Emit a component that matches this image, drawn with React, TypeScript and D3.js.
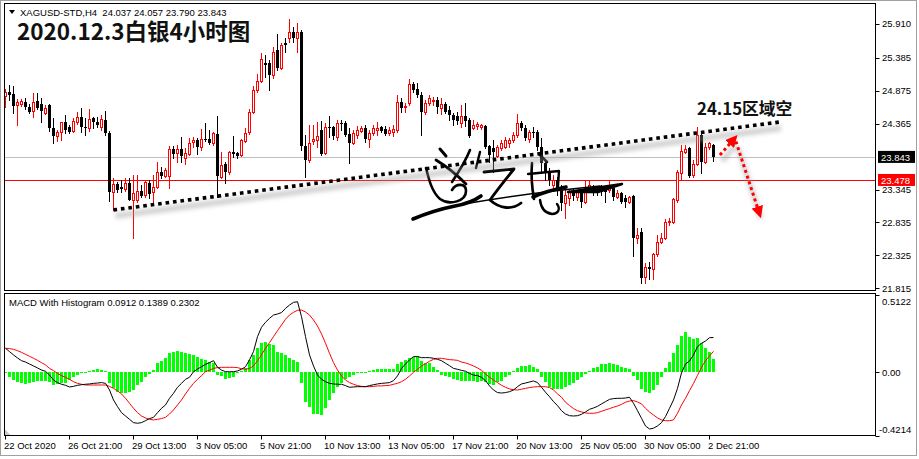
import React from 'react';
import * as d3 from 'd3';

const FONT = '"Liberation Sans", Arial, sans-serif';
const CJK = '"Noto Sans CJK SC", "Noto Sans", sans-serif';

const symbolHeader = 'XAGUSD-STD,H4  24.037 24.057 23.790 23.843';
const chartTitle = '2020.12.3白银4小时图';
const noteText = '24.15区域空';
const macdHeader = 'MACD With Histogram 0.0912 0.1389 0.2302';

const timeLabels = ['22 Oct 2020', '26 Oct 21:00', '29 Oct 13:00', '3 Nov 05:00', '5 Nov 21:00', '10 Nov 13:00', '13 Nov 05:00', '17 Nov 21:00', '20 Nov 13:00', '25 Nov 05:00', '30 Nov 05:00', '2 Dec 21:00'];
const timeTickBars = [0, 16, 32, 48, 64, 80, 96, 112, 128, 144, 160, 176];

const priceTicks = [25.91, 25.385, 24.875, 24.365, 23.345, 22.835, 22.325, 21.815];
const priceTickLabels = ['25.910', '25.385', '24.875', '24.365', '23.345', '22.835', '22.325', '21.815'];
const macdTicks = [0.5122, 0, -0.4214];
const macdTickLabels = ['0.5122', '0.00', '-0.4214'];

const lastPrice = 23.843;
const levelPrice = 23.478;

const open = [
  24.79, 24.86, 24.83, 24.65, 24.67, 24.70, 24.62, 24.56, 24.72, 24.67,
  24.53, 24.65, 24.30, 24.17, 24.24, 24.39, 24.31, 24.25, 24.39, 24.47,
  24.31, 24.30, 24.45, 24.39, 24.31, 24.42, 24.22, 23.31, 23.43, 23.38,
  23.35, 23.45, 23.18, 23.18, 23.32, 23.26, 23.45, 23.31, 23.38, 23.62,
  23.55, 23.55, 23.97, 23.91, 23.97, 23.83, 23.90, 24.08, 24.11, 24.00,
  24.13, 24.13, 24.07, 24.21, 23.54, 23.74, 23.62, 23.93, 23.91, 23.88,
  24.10, 24.24, 24.55, 24.89, 25.03, 25.31, 25.31, 25.12, 25.51, 25.23,
  25.62, 25.69, 25.79, 25.69, 25.79, 24.02, 23.80, 24.10, 24.11, 24.27,
  23.91, 24.31, 24.31, 24.16, 24.37, 24.37, 24.21, 24.07, 24.19, 24.25,
  24.30, 24.13, 24.22, 24.27, 24.31, 24.28, 24.22, 24.24, 24.27, 24.70,
  24.62, 24.69, 24.98, 24.90, 24.81, 24.55, 24.69, 24.72, 24.73, 24.61,
  24.67, 24.58, 24.50, 24.48, 24.37, 24.48, 24.42, 24.30, 24.33, 24.31,
  24.33, 24.02, 23.99, 23.86, 23.99, 24.00, 24.07, 24.11, 24.19, 24.37,
  24.30, 24.13, 24.24, 24.24, 24.00, 23.76, 23.62, 23.41, 23.49, 23.34,
  23.14, 23.21, 23.31, 23.23, 23.31, 23.15, 23.34, 23.37, 23.37, 23.37,
  23.37, 23.34, 23.37, 23.23, 23.29, 23.21, 23.15, 23.24, 22.59, 22.69,
  21.99, 22.14, 22.11, 22.35, 22.53, 22.59, 22.84, 22.84, 23.18, 23.60,
  23.93, 23.99, 23.57, 23.74, 24.19, 23.77, 24.00, 24.037
];
const high = [
  24.90, 24.96, 24.95, 24.75, 24.75, 24.76, 24.67, 24.84, 24.84, 24.76,
  24.65, 24.67, 24.45, 24.27, 24.37, 24.50, 24.34, 24.45, 24.55, 24.61,
  24.45, 24.59, 24.47, 24.47, 24.50, 24.56, 24.25, 23.52, 23.46, 23.49,
  23.52, 23.52, 23.57, 23.57, 23.41, 23.49, 23.49, 23.57, 23.77, 23.69,
  23.68, 24.02, 24.02, 24.03, 24.16, 23.99, 24.14, 24.16, 24.14, 24.28,
  24.37, 24.27, 24.24, 24.48, 23.93, 23.77, 23.94, 24.17, 23.93, 24.13,
  24.30, 24.59, 24.95, 25.13, 25.46, 25.43, 25.35, 25.55, 25.76, 25.62,
  25.69, 25.99, 25.86, 25.93, 25.82, 24.19, 24.34, 24.34, 24.39, 24.41,
  24.37, 24.48, 24.33, 24.42, 24.42, 24.41, 24.30, 24.27, 24.33, 24.33,
  24.34, 24.27, 24.34, 24.39, 24.33, 24.33, 24.31, 24.34, 24.81, 24.76,
  24.69, 25.06, 25.01, 25.00, 24.86, 24.73, 24.81, 24.78, 24.78, 24.76,
  24.70, 24.64, 24.53, 24.55, 24.65, 24.69, 24.45, 24.42, 24.39, 24.36,
  24.34, 24.03, 24.11, 24.03, 24.11, 24.16, 24.14, 24.24, 24.52, 24.41,
  24.34, 24.27, 24.31, 24.27, 24.14, 23.80, 23.68, 23.57, 23.54, 23.41,
  23.34, 23.34, 23.35, 23.37, 23.34, 23.49, 23.49, 23.41, 23.40, 23.41,
  23.40, 23.48, 23.41, 23.34, 23.31, 23.26, 23.24, 23.26, 22.75, 22.75,
  22.20, 22.22, 22.36, 22.64, 22.67, 22.89, 22.90, 23.21, 23.65, 24.03,
  24.03, 24.00, 23.80, 24.31, 24.22, 24.07, 24.08, 24.057
];
const low = [
  24.62, 24.73, 24.53, 24.34, 24.64, 24.59, 24.53, 24.47, 24.59, 24.39,
  24.52, 24.25, 24.07, 24.10, 24.11, 24.22, 24.22, 24.24, 24.36, 24.24,
  24.19, 24.25, 24.30, 24.31, 24.27, 24.19, 23.17, 23.03, 23.31, 23.31,
  23.32, 23.18, 22.59, 23.15, 23.23, 23.23, 23.21, 23.15, 23.37, 23.52,
  23.54, 23.37, 23.83, 23.77, 23.77, 23.74, 23.88, 24.00, 23.90, 23.96,
  24.10, 24.05, 24.03, 23.23, 23.52, 23.45, 23.59, 23.85, 23.83, 23.86,
  24.08, 24.21, 24.53, 24.86, 25.01, 25.09, 24.89, 25.07, 25.20, 25.21,
  25.48, 25.63, 25.63, 25.48, 23.96, 23.54, 23.77, 24.05, 24.00, 23.88,
  23.90, 24.16, 24.13, 24.11, 24.27, 24.17, 23.76, 24.05, 24.14, 24.24,
  24.08, 24.00, 24.19, 24.19, 24.24, 24.19, 24.19, 24.17, 24.24, 24.55,
  24.55, 24.65, 24.86, 24.78, 24.19, 24.52, 24.65, 24.65, 24.53, 24.52,
  24.53, 24.42, 24.34, 24.36, 24.31, 24.33, 24.16, 24.28, 24.28, 24.28,
  23.99, 23.77, 23.62, 23.85, 23.96, 23.99, 24.00, 24.08, 24.16, 24.27,
  24.11, 24.08, 24.16, 23.96, 23.62, 23.49, 23.41, 23.37, 23.26, 23.03,
  22.90, 23.10, 23.18, 23.18, 23.07, 23.14, 23.31, 23.26, 23.26, 23.26,
  23.15, 23.31, 23.18, 23.21, 23.14, 23.07, 23.14, 22.31, 22.52, 21.90,
  21.90, 21.96, 21.96, 22.31, 22.52, 22.58, 22.79, 22.83, 23.15, 23.49,
  23.91, 23.54, 23.54, 23.72, 23.60, 23.76, 23.97, 23.790
];
const close = [
  24.86, 24.81, 24.64, 24.70, 24.72, 24.62, 24.55, 24.70, 24.61, 24.56,
  24.61, 24.30, 24.17, 24.24, 24.39, 24.27, 24.24, 24.41, 24.47, 24.31,
  24.30, 24.44, 24.39, 24.34, 24.44, 24.22, 23.31, 23.43, 23.34, 23.35,
  23.45, 23.18, 23.29, 23.32, 23.24, 23.46, 23.28, 23.38, 23.62, 23.55,
  23.65, 23.97, 23.90, 23.97, 23.86, 23.91, 24.07, 24.11, 24.00, 24.13,
  24.11, 24.07, 24.22, 23.55, 23.72, 23.62, 23.93, 23.90, 23.86, 24.11,
  24.22, 24.55, 24.89, 25.03, 25.37, 25.27, 25.12, 25.48, 25.23, 25.58,
  25.58, 25.79, 25.69, 25.79, 24.02, 23.80, 24.07, 24.13, 24.17, 23.90,
  24.31, 24.30, 24.17, 24.37, 24.36, 24.19, 24.07, 24.22, 24.27, 24.30,
  24.13, 24.22, 24.30, 24.30, 24.25, 24.21, 24.27, 24.28, 24.70, 24.61,
  24.64, 24.98, 24.89, 24.81, 24.55, 24.69, 24.76, 24.73, 24.62, 24.67,
  24.55, 24.50, 24.42, 24.41, 24.48, 24.41, 24.17, 24.34, 24.36, 24.34,
  24.00, 23.88, 23.93, 24.00, 24.07, 24.11, 24.11, 24.19, 24.37, 24.30,
  24.14, 24.24, 24.22, 24.00, 23.76, 23.62, 23.49, 23.49, 23.34, 23.14,
  23.26, 23.31, 23.24, 23.31, 23.15, 23.37, 23.41, 23.31, 23.29, 23.31,
  23.31, 23.41, 23.23, 23.29, 23.15, 23.15, 23.23, 22.59, 22.64, 21.97,
  22.14, 22.11, 22.35, 22.53, 22.59, 22.84, 22.86, 23.20, 23.62, 23.94,
  23.97, 23.55, 23.74, 24.19, 23.77, 24.00, 24.07, 23.843
];

const macd = [
  0.159, 0.137, 0.115, 0.095, 0.077, 0.068, 0.055, 0.042, 0.029, 0.015,
  0.007, -0.018, -0.051, -0.068, -0.079, -0.086, -0.097, -0.093, -0.086, -0.082,
  -0.079, -0.077, -0.073, -0.071, -0.068, -0.073, -0.117, -0.183, -0.227, -0.267,
  -0.289, -0.311, -0.333, -0.337, -0.333, -0.320, -0.306, -0.298, -0.267, -0.238,
  -0.216, -0.172, -0.139, -0.099, -0.073, -0.046, -0.033, 0.004, 0.022, 0.037,
  0.053, 0.064, 0.077, 0.033, 0.015, 0.004, 0.004, 0.004, 0.009, 0.020,
  0.037, 0.082, 0.137, 0.236, 0.298, 0.331, 0.357, 0.379, 0.386, 0.395,
  0.423, 0.445, 0.463, 0.467, 0.368, 0.236, 0.115, 0.042, -0.018, -0.046,
  -0.062, -0.073, -0.077, -0.079, -0.079, -0.088, -0.099, -0.097, -0.095, -0.095,
  -0.095, -0.088, -0.082, -0.077, -0.073, -0.071, -0.068, -0.055, -0.024, 0.026,
  0.055, 0.082, 0.104, 0.104, 0.097, 0.097, 0.097, 0.093, 0.086, 0.077,
  0.060, 0.044, 0.026, 0.020, 0.013, 0.007, -0.007, -0.018, -0.022, -0.033,
  -0.055, -0.090, -0.117, -0.134, -0.137, -0.134, -0.128, -0.117, -0.095, -0.077,
  -0.071, -0.064, -0.057, -0.068, -0.099, -0.132, -0.161, -0.194, -0.220, -0.254,
  -0.276, -0.287, -0.289, -0.287, -0.278, -0.262, -0.245, -0.236, -0.225, -0.209,
  -0.194, -0.179, -0.174, -0.172, -0.172, -0.170, -0.165, -0.205, -0.254, -0.304,
  -0.355, -0.375, -0.370, -0.355, -0.333, -0.293, -0.238, -0.183, -0.106, -0.004,
  0.055, 0.075, 0.115, 0.170, 0.192, 0.207, 0.229, 0.2302
];
const signal = [
  0.159, 0.157, 0.152, 0.143, 0.132, 0.119, 0.106, 0.093, 0.079, 0.064,
  0.049, 0.026, 0.011, -0.007, -0.022, -0.033, -0.046, -0.062, -0.073, -0.079,
  -0.084, -0.084, -0.084, -0.084, -0.084, -0.084, -0.093, -0.106, -0.123, -0.143,
  -0.172, -0.205, -0.238, -0.267, -0.289, -0.302, -0.311, -0.315, -0.311, -0.306,
  -0.298, -0.276, -0.249, -0.216, -0.183, -0.143, -0.106, -0.073, -0.046, -0.022,
  0.004, 0.015, 0.026, 0.031, 0.033, 0.033, 0.033, 0.033, 0.031, 0.024,
  0.020, 0.026, 0.042, 0.077, 0.115, 0.159, 0.196, 0.236, 0.276, 0.313,
  0.351, 0.379, 0.397, 0.410, 0.412, 0.399, 0.379, 0.346, 0.306, 0.254,
  0.192, 0.126, 0.064, 0.015, -0.024, -0.051, -0.068, -0.079, -0.088, -0.093,
  -0.095, -0.095, -0.093, -0.090, -0.090, -0.088, -0.086, -0.079, -0.073, -0.062,
  -0.046, -0.024, 0.000, 0.020, 0.042, 0.057, 0.073, 0.086, 0.093, 0.093,
  0.088, 0.084, 0.082, 0.079, 0.068, 0.062, 0.053, 0.042, 0.029, 0.013,
  -0.011, -0.033, -0.051, -0.068, -0.086, -0.099, -0.110, -0.115, -0.117, -0.112,
  -0.106, -0.101, -0.097, -0.095, -0.095, -0.095, -0.101, -0.117, -0.143, -0.165,
  -0.198, -0.220, -0.240, -0.254, -0.262, -0.269, -0.271, -0.271, -0.267, -0.258,
  -0.249, -0.240, -0.231, -0.223, -0.212, -0.198, -0.190, -0.187, -0.196, -0.209,
  -0.238, -0.262, -0.282, -0.302, -0.315, -0.320, -0.320, -0.315, -0.271, -0.216,
  -0.172, -0.121, -0.073, -0.020, 0.033, 0.077, 0.108, 0.1389
];
const histogram = [
  -0.007, -0.033, -0.051, -0.062, -0.073, -0.077, -0.073, -0.062, -0.055, -0.055,
  -0.055, -0.062, -0.084, -0.077, -0.073, -0.068, -0.051, -0.033, -0.018, -0.004,
  0.004, 0.009, 0.015, 0.020, 0.015, 0.007, -0.073, -0.106, -0.128, -0.139,
  -0.139, -0.128, -0.117, -0.084, -0.062, -0.033, -0.011, 0.015, 0.060, 0.077,
  0.093, 0.126, 0.137, 0.141, 0.137, 0.126, 0.121, 0.115, 0.104, 0.088,
  0.082, 0.071, 0.064, -0.018, -0.024, -0.046, -0.040, -0.029, -0.007, 0.007,
  0.026, 0.082, 0.115, 0.159, 0.192, 0.203, 0.187, 0.181, 0.137, 0.130,
  0.115, 0.093, 0.082, 0.071, -0.073, -0.194, -0.227, -0.276, -0.276, -0.282,
  -0.238, -0.183, -0.139, -0.095, -0.068, -0.046, -0.033, -0.018, -0.007, 0.002,
  0.004, 0.009, 0.015, 0.020, 0.020, 0.020, 0.020, 0.020, 0.055, 0.071,
  0.082, 0.093, 0.104, 0.108, 0.077, 0.064, 0.060, 0.033, 0.015, -0.018,
  -0.024, -0.033, -0.046, -0.051, -0.055, -0.055, -0.055, -0.055, -0.062, -0.055,
  -0.062, -0.077, -0.084, -0.062, -0.055, -0.033, -0.018, 0.011, 0.026, 0.044,
  0.044, 0.048, 0.037, 0.022, -0.029, -0.062, -0.095, -0.110, -0.112, -0.110,
  -0.099, -0.084, -0.068, -0.051, -0.033, -0.011, 0.011, 0.026, 0.037, 0.055,
  0.055, 0.060, 0.055, 0.048, 0.033, 0.026, 0.022, -0.024, -0.051, -0.112,
  -0.128, -0.139, -0.117, -0.084, -0.033, 0.026, 0.071, 0.126, 0.181, 0.243,
  0.265, 0.236, 0.218, 0.225, 0.192, 0.159, 0.137, 0.0912
];

// annotation anchors in data space (bar index, price)
const trendLine = [{ bar: 27, price: 23.03 }, { bar: 193.4, price: 24.39 }];
const arrowUp = [{ bar: 178.6, price: 23.88 }, { bar: 182.0, price: 24.12 }];
const arrowDown = [{ bar: 182.6, price: 24.09 }, { bar: 188.4, price: 22.99 }];

// handwritten watermark strokes (decoration, pixel space)
const signatureStrokes = [
  { d: 'M413,219 C425,214 440,209 455,206 C466,204 474,201 481,196', w: 3.6 },
  { d: 'M470,203 C510,196 560,190 600,186', w: 1.6 },
  { d: 'M568,192 L622,184 L598,192 Z', w: 2.5 },
  { d: 'M440,149 L446,156', w: 3 },
  { d: 'M436,160 C446,166 456,174 466,184', w: 2.8 },
  { d: 'M470,150 C466,160 460,170 452,182', w: 2.6 },
  { d: 'M480,152 L476,168', w: 2.4 },
  { d: 'M426,168 C429,180 432,192 440,199 C450,206 466,201 466,191 C466,183 456,183 452,190', w: 2.6 },
  { d: 'M484,172 L514,169 C505,180 497,190 490,200 C500,209 512,210 521,203', w: 2.8 },
  { d: 'M540,155 L547,162', w: 2.6 },
  { d: 'M532,163 C531,175 532,188 534,199', w: 2.6 },
  { d: 'M528,174 L559,171 L558,186', w: 2.4 },
  { d: 'M533,197 C544,192 556,189 566,187', w: 3.6 },
  { d: 'M540,200 C541,208 544,213 552,214 C558,214 561,209 557,204', w: 2.4 },
];

export default function App() {
  const x = d3.scaleLinear().domain([0, 1]).range([5.5, 9.5]);
  const yP = d3.scaleLinear().domain([21.815, 25.91]).range([288.3, 24]);
  const yM = d3.scaleLinear().domain([-0.4214, 0.5122]).range([436, 294.9]);

  const L = 4.5, R = 875.5, mainTop = 3.5, mainBot = 290.5, mTop = 293.5, mBot = 435.5;

  const lineGen = d3.line<number>().x((_, i) => x(i)).y((v) => yM(v));
  const pt = (p: { bar: number; price: number }) => [x(p.bar), yP(p.price)];
  const segPath = (a: { bar: number; price: number }, b: { bar: number; price: number }) => {
    const [x1, y1] = pt(a);
    const [x2, y2] = pt(b);
    return `M${x1},${y1} L${x2},${y2}`;
  };

  return (
    <svg width={919} height={459} style={{ position: 'absolute', left: 0, top: 0, background: '#fff' }} fontFamily={FONT}>
      <defs>
        <filter id="blur" x="-20%" y="-50%" width="140%" height="200%">
          <feGaussianBlur stdDeviation="2.2" />
        </filter>
        <marker id="ahRed" viewBox="0 0 10 10" refX="5" refY="5" markerWidth="4" markerHeight="4" orient="auto">
          <path d="M0,0 L10,5 L0,10 Z" fill="#ff0000" />
        </marker>
        <clipPath id="mainClip"><rect x={L} y={mainTop} width={R - L} height={mainBot - mainTop} /></clipPath>
        <clipPath id="macdClip"><rect x={L} y={mTop} width={R - L} height={mBot - mTop} /></clipPath>
      </defs>
      <rect x={0} y={0} width={919} height={459} fill="#ffffff" />
      <rect x={0.5} y={0.5} width={916} height={455} fill="none" stroke="#a0a0a0" />

      {/* main pane */}
      <g clipPath="url(#mainClip)">
        <line x1={L} x2={R} y1={Math.round(yP(lastPrice)) + 0.5} y2={Math.round(yP(lastPrice)) + 0.5} stroke="#c0c0c0" />
        <line x1={L} x2={R} y1={Math.round(yP(levelPrice)) - 0.5} y2={Math.round(yP(levelPrice)) - 0.5} stroke="#ff0000" />

        <g shapeRendering="crispEdges">
          {close.map((c, i) => {
            const o = open[i];
            const cx = x(i);
            const bull = c > o;
            const col = bull ? '#ff0000' : '#000000';
            const yTop = Math.round(yP(Math.max(o, c)));
            const yBot = Math.round(yP(Math.min(o, c)));
            const wTop = Math.round(yP(high[i]));
            const wBot = Math.round(yP(low[i]));
            return (
              <g key={i}>
                <line x1={cx} x2={cx} y1={wTop} y2={wBot + 1} stroke={col} />
                {bull ? (
                  <rect x={cx - 1} y={yTop + 0.5} width={2} height={Math.max(yBot - yTop, 0)} fill="#ffffff" stroke={col} />
                ) : (
                  <rect x={cx - 1.5} y={yTop} width={3} height={Math.max(yBot - yTop, 1)} fill={col} />
                )}
              </g>
            );
          })}
        </g>

        <g fill="none" stroke="#000" strokeLinecap="round" strokeLinejoin="round">
          {signatureStrokes.map((s, i) => (
            <path key={i} d={s.d} strokeWidth={s.w} fill={s.d.endsWith('Z') ? '#000' : 'none'} />
          ))}
        </g>

        <path d={segPath(trendLine[0], trendLine[1])} transform="translate(2,6)" stroke="#9a9a9a" strokeWidth={6} opacity={0.45} filter="url(#blur)" fill="none" />
        <path d={segPath(trendLine[0], trendLine[1])} stroke="#000" strokeWidth={3.6} strokeDasharray="3.6 3.9" fill="none" />

        <g fill="none">
          <path d={segPath(arrowUp[0], arrowUp[1])} transform="translate(2,6)" stroke="#9a9a9a" strokeWidth={5} opacity={0.45} filter="url(#blur)" />
          <path d={segPath(arrowDown[0], arrowDown[1])} transform="translate(2,6)" stroke="#9a9a9a" strokeWidth={5} opacity={0.45} filter="url(#blur)" />
          <path d={segPath(arrowUp[0], arrowUp[1])} stroke="#ff0000" strokeWidth={3} strokeDasharray="3 3" markerEnd="url(#ahRed)" />
          <path d={segPath(arrowDown[0], arrowDown[1])} stroke="#ff0000" strokeWidth={3} strokeDasharray="3 3" markerEnd="url(#ahRed)" />
        </g>
      </g>
      <rect x={L} y={mainTop} width={R - L} height={mainBot - mainTop} fill="none" stroke="#000" shapeRendering="crispEdges" />

      {/* header texts */}
      <path d="M9,10 L15,10 L12,14 Z" fill="#000" />
      <text x={20} y={15.5} fontSize={9.5} fill="#000" style={{ whiteSpace: 'pre' }}>{symbolHeader}</text>
      <text x={17} y={40} fontSize={22.5} fontWeight={700} fontFamily={CJK} fill="#111">{chartTitle}</text>
      <text x={697} y={115} fontSize={16.8} fontWeight={700} fontFamily={CJK} fill="#111">{noteText}</text>

      {/* price axis */}
      {priceTicks.map((p, i) => (
        <g key={i}>
          <line x1={R} x2={R + 4} y1={Math.round(yP(p)) + 0.5} y2={Math.round(yP(p)) + 0.5} stroke="#000" />
          <text x={882} y={yP(p)} dy="0.35em" fontSize={9.5} fill="#000">{priceTickLabels[i]}</text>
        </g>
      ))}
      <rect x={878} y={yP(lastPrice) - 6.5} width={37} height={12} fill="#000" />
      <text x={881} y={yP(lastPrice)} dy="0.35em" fontSize={9.5} fill="#fff">{lastPrice.toFixed(3)}</text>
      <rect x={878} y={yP(levelPrice) - 7} width={37} height={12} fill="#ff0000" />
      <text x={881} y={yP(levelPrice) - 0.5} dy="0.35em" fontSize={9.5} fill="#fff">{levelPrice.toFixed(3)}</text>

      {/* MACD pane */}
      <g clipPath="url(#macdClip)">
        <g shapeRendering="crispEdges">
          {histogram.map((h, i) => {
            const yv = Math.round(yM(h));
            const y0 = Math.round(yM(0));
            return <rect key={i} x={x(i) - 1.5} y={Math.min(yv, y0)} width={3} height={Math.max(Math.abs(yv - y0), 1)} fill="#00ff00" />;
          })}
        </g>
        <path d={lineGen(signal) || ''} fill="none" stroke="#ff0000" strokeWidth={1} />
        <path d={lineGen(macd) || ''} fill="none" stroke="#000000" strokeWidth={1} />
        <path d={`M${L + 0.5},${mBot - 6} L${L + 6},${mBot - 0.5} L${L + 0.5},${mBot - 0.5} Z`} fill="#c8c8c8" />
      </g>
      <rect x={L} y={mTop} width={R - L} height={mBot - mTop} fill="none" stroke="#000" shapeRendering="crispEdges" />
      <text x={9} y={306} fontSize={9.5} fill="#000">{macdHeader}</text>
      {macdTicks.map((v, i) => {
        const yy = i === 0 ? yM(v) + 6.5 : i === 2 ? yM(v) - 6.5 : yM(v);
        return (
          <g key={i}>
            <line x1={R} x2={R + 4} y1={Math.round(yM(v)) + 0.5} y2={Math.round(yM(v)) + 0.5} stroke="#000" />
            <text x={i === 2 ? 879 : 882} y={yy} dy="0.35em" fontSize={9.5} fill="#000">{macdTickLabels[i]}</text>
          </g>
        );
      })}

      {/* time axis */}
      {timeTickBars.map((b, i) => (
        <g key={i}>
          <line x1={Math.round(x(b)) - 0.5} x2={Math.round(x(b)) - 0.5} y1={mBot} y2={mBot + 4} stroke="#000" />
          <text x={x(b) - 1.5} y={449} fontSize={9.5} fill="#000">{timeLabels[i]}</text>
        </g>
      ))}
    </svg>
  );
}
